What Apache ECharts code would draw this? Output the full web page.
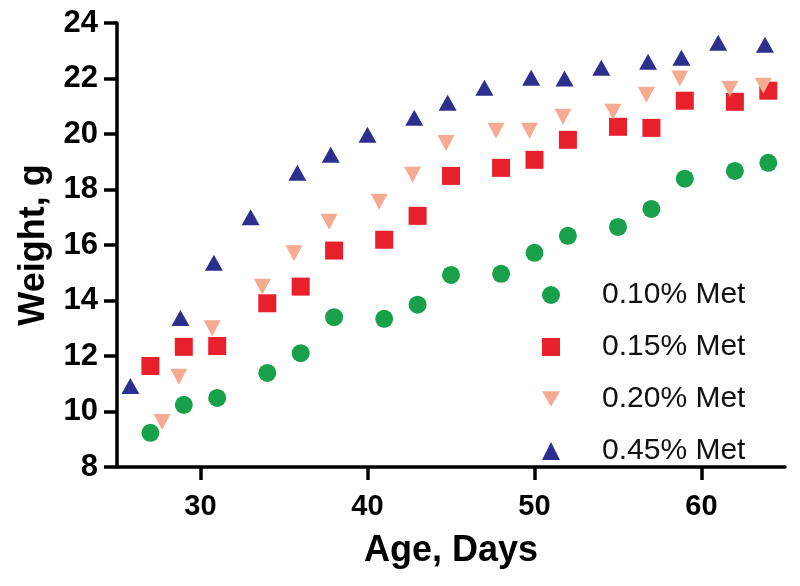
<!DOCTYPE html>
<html>
<head>
<meta charset="utf-8">
<title>Weight vs age</title>
<script src="https://cdn.jsdelivr.net/npm/echarts@6/dist/echarts.min.js"></script>
<style>
  html, body { margin: 0; padding: 0; background: #fff; }
  #main { width: 800px; height: 586px; }
</style>
</head>
<body>
<div id="main"></div>
<script>
// values: [age in days, weight in g]
var met010 = [[27, 9.23], [29, 10.24], [31, 10.49], [34, 11.39], [36, 12.1], [38, 13.4], [41, 13.34], [43, 13.85], [45, 14.92],
  [48, 14.96], [50, 15.72], [52, 16.33], [55, 16.65], [57, 17.3], [59, 18.39], [62, 18.67], [64, 18.96]];
var met015 = [[27, 11.64], [29, 12.33], [31, 12.36], [34, 13.9], [36, 14.5], [38, 15.8], [41, 16.19], [43, 17.05], [45, 18.49],
  [48, 18.78], [50, 19.07], [52, 19.79], [55, 20.26], [57, 20.22], [59, 21.2], [62, 21.16], [64, 21.56]];
var met020 = [[27.7, 9.62], [28.7, 11.25], [30.7, 13.0], [33.7, 14.5], [35.6, 15.7], [37.7, 16.84], [40.7, 17.56], [42.7, 18.53],
  [44.7, 19.68], [47.7, 20.12], [49.7, 20.12], [51.7, 20.62], [54.7, 20.8], [56.7, 21.41], [58.7, 22.0], [61.7, 21.63], [63.7, 21.74]];
var met045 = [[25.8, 10.92], [28.8, 13.37], [30.8, 15.36], [33, 17.0], [35.8, 18.6], [37.8, 19.25], [40, 19.97], [42.8, 20.59],
  [44.8, 21.13], [47, 21.67], [49.8, 22.03], [51.8, 22.0], [54, 22.39], [56.8, 22.6], [58.8, 22.75], [61, 23.29], [63.8, 23.22]];

var seriesNames = ['0.10% Met', '0.15% Met', '0.20% Met', '0.45% Met'];
var xTicks = [30, 40, 50, 60];

var chart = echarts.init(document.getElementById('main'));
var font = 'Liberation Sans, Arial, sans-serif';
var downTri = 'path://M0,0L20,0L10,17.3Z';

var option = {
  animation: false,
  backgroundColor: '#fff',
  grid: { left: 117, right: 15, top: 23, bottom: 119, outerBoundsMode: 'none' },
  legend: {
    orient: 'vertical',
    left: 542,
    top: 280,
    padding: 0,
    itemGap: 22,
    itemWidth: 18,
    itemHeight: 18,
    selectedMode: false,
    data: [
      { name: seriesNames[0], icon: 'circle' },
      { name: seriesNames[1], icon: 'rect' },
      { name: seriesNames[2], icon: downTri },
      { name: seriesNames[3], icon: 'triangle' }
    ],
    textStyle: { fontFamily: font, fontSize: 30, lineHeight: 30, color: '#111', padding: [0, 0, 0, 37] }
  },
  xAxis: {
    type: 'value',
    min: 25,
    max: 65,
    name: 'Age, Days',
    nameLocation: 'middle',
    nameGap: 66,
    nameTextStyle: { fontFamily: font, fontSize: 36, fontWeight: 'bold', color: '#000' },
    axisLine: { lineStyle: { color: '#000', width: 3.5 } },
    axisTick: { show: true, length: 13, customValues: xTicks, lineStyle: { color: '#000', width: 3.5 } },
    axisLabel: { customValues: xTicks, margin: 25, fontFamily: font, fontSize: 29, fontWeight: 'bold', color: '#000' },
    splitLine: { show: false }
  },
  yAxis: {
    type: 'value',
    min: 8,
    max: 24,
    interval: 2,
    name: 'Weight, g',
    nameLocation: 'middle',
    nameGap: 65,
    nameTextStyle: { fontFamily: font, fontSize: 36, fontWeight: 'bold', color: '#000' },
    axisLine: { show: true, lineStyle: { color: '#000', width: 3.5 } },
    axisTick: { show: true, length: 13, lineStyle: { color: '#000', width: 3.5 } },
    axisLabel: { margin: 19, fontFamily: font, fontSize: 31, fontWeight: 'bold', color: '#000' },
    splitLine: { show: false }
  },
  series: [
    { name: seriesNames[0], type: 'scatter', data: met010, symbol: 'circle', symbolSize: 18,
      itemStyle: { color: '#18a04b', opacity: 1 } },
    { name: seriesNames[1], type: 'scatter', data: met015, symbol: 'rect', symbolSize: 18,
      itemStyle: { color: '#e8202b', opacity: 1 } },
    { name: seriesNames[2], type: 'scatter', data: met020, symbol: downTri, symbolSize: [17, 16],
      itemStyle: { color: '#f5ab92', opacity: 1 } },
    { name: seriesNames[3], type: 'scatter', data: met045, symbol: 'triangle', symbolSize: [18, 16],
      itemStyle: { color: '#2c2f8d', opacity: 1 } }
  ]
};

chart.setOption(option);
</script>
</body>
</html>
